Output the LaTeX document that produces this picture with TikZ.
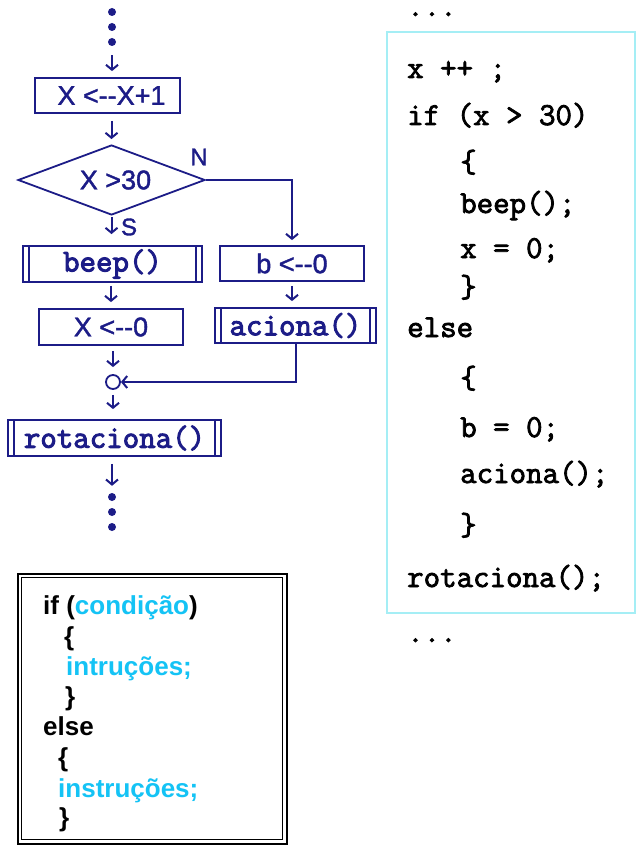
\documentclass[tikz,border=0pt]{standalone}
\usepackage{fontspec}
\setmainfont{Liberation Sans}
\newfontfamily\codefont{Latin Modern Mono}[FakeBold=2.5]
\newfontfamily\flowfont{Latin Modern Mono}[FakeBold=3]
\newfontfamily\flowsans{Liberation Sans}[FakeBold=1.5]
\usetikzlibrary{shapes.geometric,arrows.meta}
\definecolor{navy}{RGB}{28,28,135}
\definecolor{sky}{RGB}{20,195,245}
\definecolor{pale}{RGB}{165,238,245}
\begin{document}
\begin{tikzpicture}[x=1pt,y=-1pt,
  box/.style={draw=navy, line width=1.8pt, rectangle, inner sep=0pt, text=navy},
  monotxt/.style={font=\flowfont\fontsize{32}{32}\selectfont},
  sanstxt/.style={font=\flowsans\fontsize{27}{27}\selectfont},
  arr/.style={draw=navy, line width=2pt, -{Straight Barb[length=5pt,width=12pt,line width=2pt]}},
  fdot/.style={circle, fill=navy, inner sep=0pt, minimum size=8pt},
  inner/.style={draw=navy, line width=1.5pt},
  codeline/.style={anchor=base west, inner sep=0pt, font=\codefont\fontsize{32}{32}\selectfont},
  gen/.style={anchor=base west, inner sep=0pt, font=\bfseries\fontsize{26}{26}\selectfont}]
\useasboundingbox (0,0) rectangle (640,845);
\fill[white] (0,0) rectangle (640,845);

% flowchart
\node[fdot] (d1) at (112,12) {};
\node[fdot] (d2) at (112,27) {};
\node[fdot] (d3) at (112,42) {};
\node[box, minimum width=145pt, minimum height=35pt, sanstxt] (inc) at (107.5,95.5) {\hspace*{8pt}X <-{}-X+1};
\node[diamond, draw=navy, line width=1.8pt, aspect=2.67, inner sep=0pt, minimum width=187pt, minimum height=70pt, text=navy, sanstxt] (dec) at (111.5,180) {\hspace*{8pt}X >30};
\node[box, minimum width=179pt, minimum height=36pt, monotxt] (beep) at (112.5,264) {beep()};
\node[box, minimum width=144pt, minimum height=35pt, sanstxt] (bz) at (292,263.5) {b <-{}-0};
\node[box, minimum width=144pt, minimum height=36pt, sanstxt] (xz) at (111,327) {X <-{}-0};
\node[box, minimum width=161pt, minimum height=35pt, monotxt] (acn) at (295.5,325.5) {aciona()};
\node[circle, draw=navy, line width=1.8pt, minimum size=14pt, inner sep=0pt] (join) at (113,382) {};
\node[box, minimum width=213pt, minimum height=36pt, monotxt] (rot) at (114.5,438) {rotaciona()};
\node[fdot] (e1) at (112,497) {};
\node[fdot] (e2) at (112,512) {};
\node[fdot] (e3) at (112,527) {};

\foreach \n in {beep,acn,rot}{
  \draw[inner] ([xshift=7pt]\n.north west) -- ([xshift=7pt]\n.south west);
  \draw[inner] ([xshift=-7pt]\n.north east) -- ([xshift=-7pt]\n.south east);
}

\node[text=navy, font=\flowsans\fontsize{24}{24}\selectfont] (nlab) at (199,157) {N};
\node[text=navy, font=\flowsans\fontsize{24}{24}\selectfont] (slab) at (129,227) {S};

\draw[arr, shorten <=9pt, shorten >=6pt] (d3) -- (d3 |- inc.north);
\draw[arr, shorten <=7pt, shorten >=5pt] (dec.north |- inc.south) -- (dec.north);
\draw[arr, shorten <=1pt, shorten >=11pt] (dec.south) -- (dec.south |- beep.north);
\draw[arr, shorten <=3pt, shorten >=6pt] (xz.north |- beep.south) -- (xz.north);
\draw[arr, shorten <=5pt, shorten >=7pt] (join.north |- xz.south) -- (join.north);
\draw[arr, shorten <=5pt, shorten >=10pt] (join.south) -- (join.south |- rot.north);
\draw[arr, shorten <=7pt, shorten >=7pt] (rot.south -| e1) -- (e1);
\draw[arr, shorten >=5pt] (dec.east) -- (dec.east -| bz.north) -- (bz.north);
\draw[arr, shorten <=4pt, shorten >=6pt] (bz.south) -- (bz.south |- acn.north);
\draw[arr] (acn.south) -- (acn.south |- join) -- (join);

% code
\draw[pale, line width=2pt] (387,32) rectangle (635,613);
\node[codeline, text height=5pt] (c0) at (407,16) {...};
\node[codeline] (c1) at (407,78) {x ++ ;};
\node[codeline] (c2) at (407,125) {if (x > 30)};
\node[codeline] (c3) at (460,172) {\{};
\node[codeline] (c4) at (460,213) {beep();};
\node[codeline] (c5) at (460,258) {x = 0;};
\node[codeline] (c6) at (460,297) {\}};
\node[codeline] (c7) at (407,337) {else};
\node[codeline] (c8) at (460,388) {\{};
\node[codeline] (c9) at (460,437) {b = 0;};
\node[codeline] (c10) at (460,483) {aciona();};
\node[codeline] (c11) at (460,535) {\}};
\node[codeline] (c12) at (407,587) {rotaciona();};
\node[codeline, text height=5pt] (c13) at (407,642) {...};

% generic frame
\draw[black, line width=2pt] (17.5,573.5) rectangle (286.5,843.5);
\draw[black, line width=1.5pt] (21.5,577.5) rectangle (282.5,839.5);
\node[gen] (g1) at (43,614) {if (\textcolor{sky}{condição})};
\node[gen] (g2) at (64,645) {\{};
\node[gen, text=sky] (g3) at (66,675) {intruções;};
\node[gen] (g4) at (65,705) {\}};
\node[gen] (g5) at (43,735) {else};
\node[gen] (g6) at (58,766) {\{};
\node[gen, text=sky] (g7) at (58,797) {instruções;};
\node[gen] (g8) at (59,826) {\}};
\end{tikzpicture}
\end{document}
